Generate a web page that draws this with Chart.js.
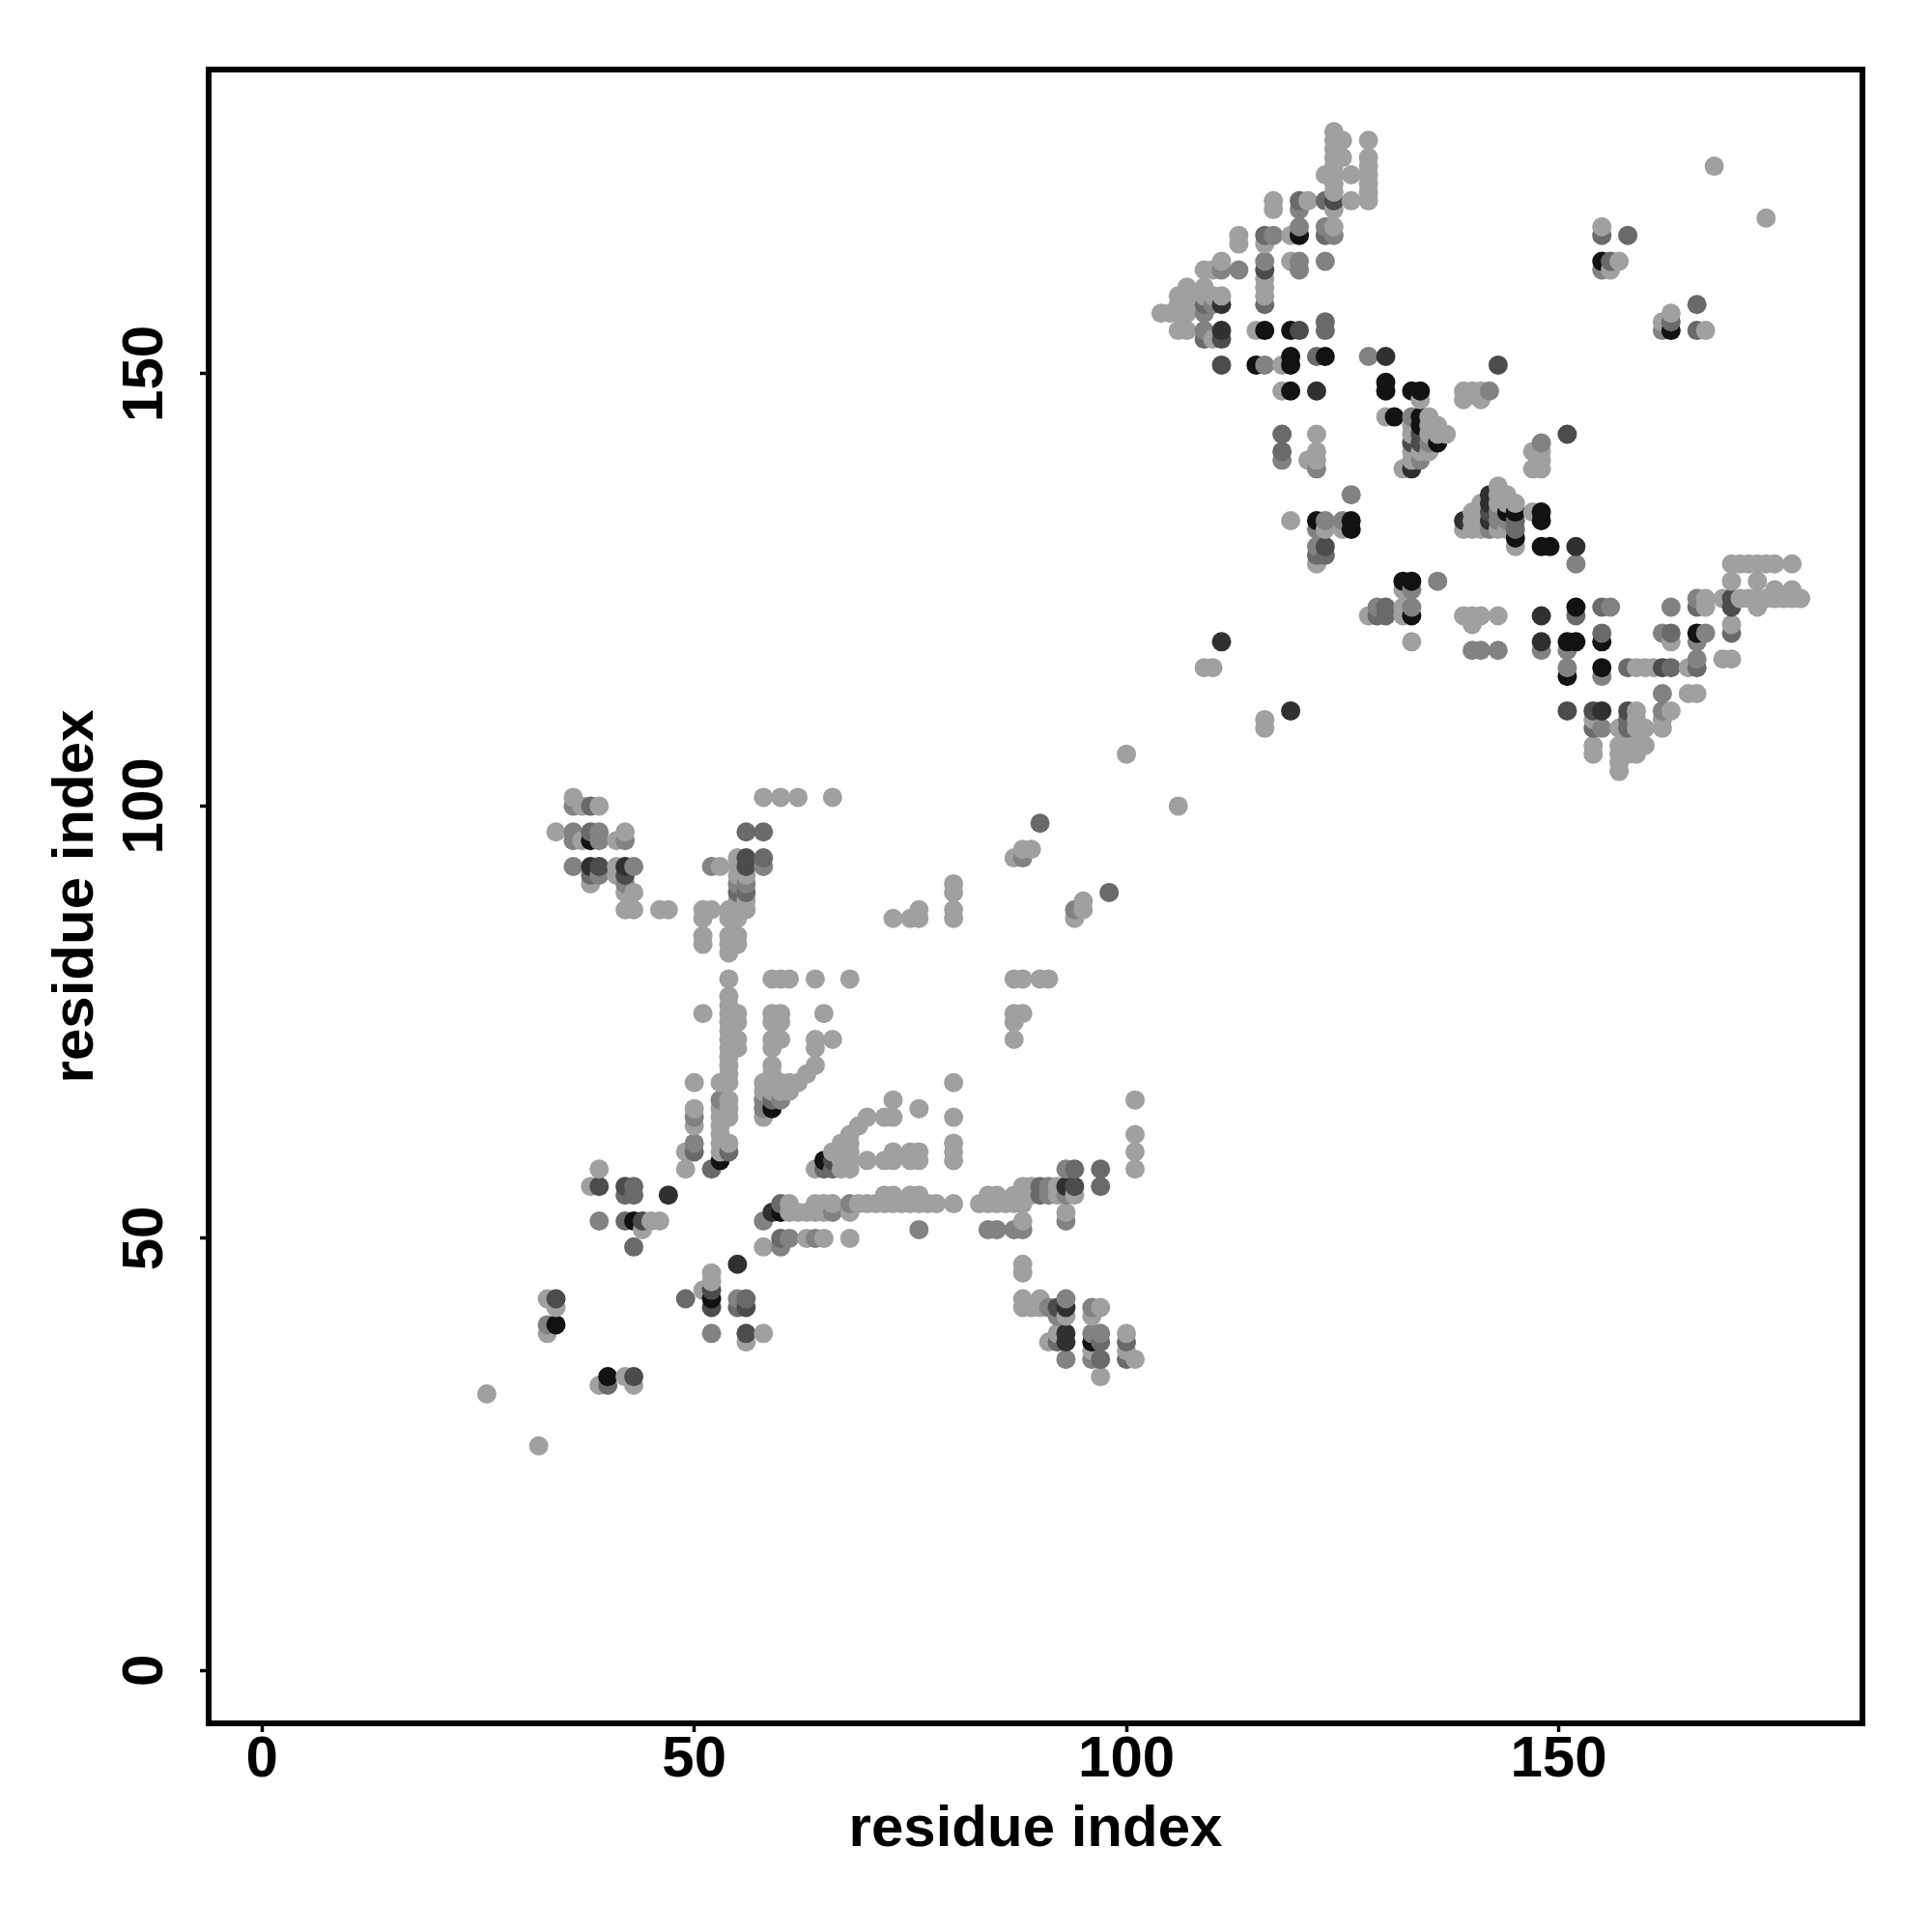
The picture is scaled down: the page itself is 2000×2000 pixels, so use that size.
<!DOCTYPE html>
<html><head><meta charset="utf-8">
<script src="https://cdn.jsdelivr.net/npm/chart.js@4"></script>
<style>html,body{margin:0;padding:0;background:#fff}canvas{display:block}</style>
</head><body><canvas id="c" width="2000" height="2000"></canvas>
<script>
const axisTitle = "residue index";
const tickValues = [0, 50, 100, 150];
// each row: [y, [x, x, ...]], one array per grey level
const lightRows = [[26,[32]],[32,[26]],[33,[39,43]],[34,[42,97]],[36,[101]],[37,[96,100]],[38,[56,91]],[39,[33,58,92,100]],[41,[93,96]],[42,[34,88,89,90,97]],[43,[33,88,90]],[44,[51]],[45,[52]],[46,[52,88]],[47,[88]],[49,[58]],[50,[63,65,68]],[51,[44]],[52,[45,46,88]],[53,[61,62,63,64,65,68,93]],[54,[61,64,65,66,69,70,71,72,73,74,75,76,77,78,80,83,84,85,86,87,88]],[55,[72,73,75,76,84,85,87,88,89,92,94]],[56,[38,88,89,92]],[58,[39,49,64,67,68,101]],[59,[67,68,70,72,73,75,76,80]],[60,[49,53,66,67,68,73,75,76,80,101]],[61,[53,54,67,68,80]],[62,[53,68,101]],[63,[50,53,69]],[64,[53,54,58,70,72,73,80]],[65,[50,53,54,76]],[66,[54,73,101]],[67,[58,59,60,61]],[68,[50,53,54,58,59,60,61,62,80]],[69,[54,59,63]],[70,[54,59,64]],[71,[54]],[72,[54,55,59,64]],[73,[54,55,59,60,64,66,87]],[74,[54]],[75,[54,55,59,60,87]],[76,[51,54,55,59,60,65,87,88]],[77,[54]],[78,[54]],[80,[54,59,60,61,64,68,87,88,90,91]],[83,[54]],[84,[51,54,55]],[85,[51,54,55]],[87,[51,54,55,73,75,76,80,94]],[88,[42,43,46,47,51,52,54,55,56,76,80,95]],[89,[55,56,95]],[90,[42,43,80]],[91,[38,80]],[92,[41,55,56]],[93,[41,53,55]],[94,[55,87]],[95,[88,89]],[96,[37,41]],[97,[34,42]],[100,[37,39,106]],[101,[36,58,60,62,66]],[104,[157]],[105,[157]],[106,[100,154,157,158,159]],[107,[154,157,158,159,160]],[109,[116,157,159,160,162]],[110,[116,154,159,162]],[111,[159,163]],[113,[165,166]],[116,[109,110,159,160,161,165]],[117,[169,170]],[119,[133,163]],[121,[140,170]],[122,[128,132,139,140,141,143]],[123,[132,167,173]],[124,[167,169,171,172,173,174,175,176,177,178]],[125,[132,175,177]],[126,[170,173]],[128,[122,170,171,172,173,174,175,177]],[130,[145]],[132,[123,125,139,140,141,143,144]],[133,[119,140,141]],[134,[140,141,147]],[135,[141,143,144,145]],[136,[143,144]],[137,[143]],[139,[132,147,148]],[140,[121,122,133,148]],[141,[122,133,134,135,147,148]],[143,[122,133,135,136,137]],[144,[133,135,136]],[145,[130,135]],[147,[134,139,141]],[148,[118,139,140,141]],[151,[118]],[154,[110]],[155,[106,107,115,167]],[156,[162]],[157,[104,105,106,107,163]],[158,[106,107]],[159,[106,107,109,110,111,116]],[160,[107,109,116]],[161,[116]],[162,[109,110,156]],[163,[111,119,157]],[165,[113,116]],[166,[113,119]],[167,[124,155]],[168,[174]],[169,[117,124]],[170,[117,121,126,128]],[171,[124,128]],[172,[124,128]],[173,[123,124,126,128]],[174,[124,128,168]],[175,[124,125,128]],[176,[124]],[177,[124,125,128]],[178,[124]]];
const midRows = [[36,[93,96]],[39,[52,96,97]],[40,[33]],[41,[92]],[42,[91,96]],[43,[55,93]],[49,[60]],[50,[61,64]],[51,[76,84,85,87,88]],[52,[39,58,93]],[53,[66]],[54,[68]],[55,[91,93]],[56,[91]],[58,[93]],[61,[50]],[64,[50]],[65,[58]],[66,[53,58,60]],[88,[94]],[91,[42,55,56]],[92,[39]],[93,[36,43,52,58]],[94,[88]],[96,[36,39,42]],[97,[36,39]],[100,[36]],[109,[155]],[111,[162]],[113,[162]],[115,[155]],[116,[151]],[117,[166]],[118,[140,141,143,148,151]],[119,[166]],[120,[162,167]],[123,[129,133,156,163]],[124,[166]],[125,[133]],[126,[136]],[128,[152]],[130,[122]],[132,[122,142]],[133,[123,125,143,144]],[134,[143]],[136,[126]],[139,[122]],[140,[118,134]],[142,[135,148]],[145,[133]],[148,[142]],[151,[116]],[152,[128]],[155,[109,162]],[157,[109]],[158,[110]],[162,[111,113,120,155]],[163,[116,120,123]],[166,[117,124]],[167,[120,123]],[169,[120]]];
const greyRows = [[33,[40]],[36,[97,100]],[38,[92,97,100]],[42,[55]],[43,[49,56]],[49,[43]],[50,[60]],[52,[42]],[54,[60]],[55,[42,43,90]],[56,[43,90,97]],[58,[52,65,66,94,97]],[60,[50,54]],[66,[59]],[90,[55,56,98]],[92,[38]],[94,[58]],[97,[38,56,58]],[98,[90]],[100,[38]],[109,[154,158]],[110,[158]],[116,[158,163,166]],[120,[155,163,170]],[122,[129,130,152]],[123,[130,155,166]],[129,[122,123]],[132,[145]],[133,[145]],[141,[118]],[143,[118]],[152,[122]],[154,[109]],[155,[123,166]],[156,[123,163]],[158,[109,116,166]],[163,[156]],[166,[116,123,155,158]],[170,[120,123]]];
const darkRows = [[34,[43]],[39,[56]],[42,[52,56,92]],[43,[34]],[44,[52]],[52,[44]],[56,[39,42,94]],[59,[66]],[92,[42]],[93,[39,56]],[94,[56]],[111,[151,154,158]],[116,[162]],[123,[170]],[124,[170]],[130,[123]],[134,[142]],[142,[133,134]],[143,[134,151]],[151,[111,143]],[154,[111]],[155,[120]],[162,[116]],[170,[124]]];
const deepRows = [[38,[93]],[39,[93]],[42,[93]],[47,[55]],[53,[59]],[55,[47]],[56,[93]],[93,[38,42]],[111,[119,155]],[119,[111,148]],[122,[148]],[130,[152]],[133,[139,142]],[135,[142]],[136,[142]],[139,[133]],[148,[122]],[152,[130]],[155,[111]],[158,[111]]];
const blackRows = [[34,[40]],[38,[96]],[40,[34]],[43,[52]],[52,[43]],[53,[60]],[59,[53,65]],[65,[59]],[96,[38]],[115,[151]],[116,[155]],[119,[151,152,155]],[120,[166]],[122,[133]],[123,[152]],[126,[132,133]],[130,[148,149]],[131,[145]],[132,[126]],[133,[122,126,148]],[134,[144,145,148]],[142,[136]],[144,[134]],[145,[131,134]],[148,[119,130,133,134]],[149,[130]],[151,[115,119]],[152,[119,123]],[155,[116,119,163]],[163,[155]],[166,[120]]];

const levels = [
  [lightRows, "#a0a0a0"], [midRows, "#828282"], [greyRows, "#6a6a6a"],
  [darkRows, "#4c4c4c"], [deepRows, "#303030"], [blackRows, "#121212"]
];
const points = [];
levels.forEach(([rows, colour]) => rows.forEach(([y, xs]) => xs.forEach(x => points.push({x, y, colour}))));
// painted column by column, bottom to top, as in the original
points.sort((a, b) => a.x - b.x || a.y - b.y);

const tickFont = {family: "'Liberation Sans'", size: 60, weight: "bold"};
const setTicks = axis => { axis.ticks = tickValues.map(value => ({value})); };
const frame = {
  id: "frame",
  afterDatasetsDraw(chart) {
    const {left, top, width, height} = chart.chartArea, ctx = chart.ctx;
    ctx.save(); ctx.lineWidth = 6; ctx.strokeStyle = "#000"; ctx.lineJoin = "miter";
    ctx.strokeRect(left, top, width, height); ctx.restore();
  }
};
const whiteBg = {
  id: "whiteBg",
  beforeDraw(chart) { const c = chart.ctx; c.save(); c.fillStyle = "#fff"; c.fillRect(0, 0, 2000, 2000); c.restore(); }
};
new Chart(document.getElementById("c"), {
  type: "scatter",
  plugins: [whiteBg, frame],
  data: {datasets: [{
    data: points.map(p => ({x: p.x, y: p.y})),
    pointBackgroundColor: points.map(p => p.colour),
    pointBorderWidth: 0, pointRadius: 10, pointHoverRadius: 10
  }]},
  options: {
    responsive: false, animation: false, devicePixelRatio: 1,
    layout: {padding: {top: 72, right: 72, left: 0, bottom: 0}},
    plugins: {legend: {display: false}, tooltip: {enabled: false}},
    scales: {
      x: {
        type: "linear", min: -6.18, max: 185.15,
        afterBuildTicks: setTicks,
        afterFit(s) { s.height = 216; },
        border: {display: false},
        grid: {drawOnChartArea: false, drawTicks: true, tickLength: 9, tickWidth: 3.5, tickColor: "#000"},
        ticks: {color: "#000", font: tickFont, padding: -7, maxRotation: 0, autoSkip: false, callback: v => String(v)},
        title: {display: true, text: axisTitle, color: "#000", font: tickFont, padding: {top: 0, bottom: 70}}
      },
      y: {
        type: "linear", min: -6.1, max: 185.18,
        afterBuildTicks: setTicks,
        afterFit(s) { s.width = 216; },
        border: {display: false},
        grid: {drawOnChartArea: false, drawTicks: true, tickLength: 9, tickWidth: 3.5, tickColor: "#000"},
        ticks: {color: "#000", font: tickFont, padding: 5, minRotation: 90, maxRotation: 90, crossAlign: "center", autoSkip: false, callback: v => String(v)},
        title: {display: true, text: axisTitle, color: "#000", font: tickFont, padding: {top: 43, bottom: 0}}
      }
    }
  }
});
</script></body></html>
